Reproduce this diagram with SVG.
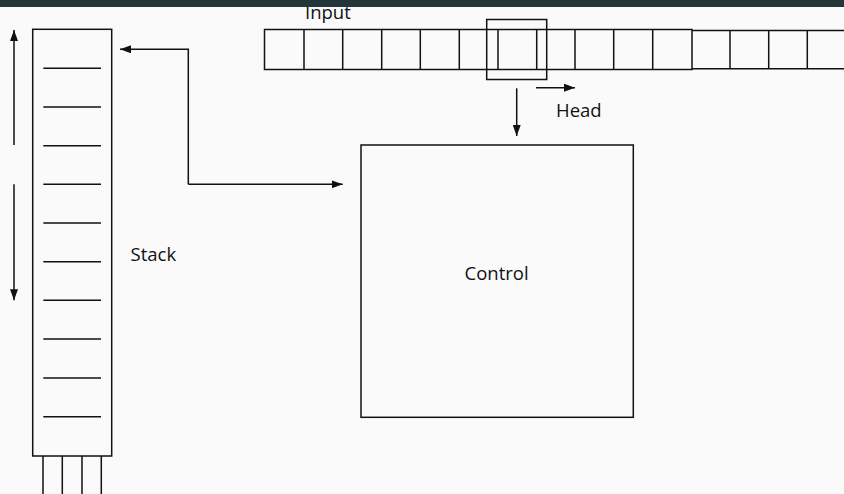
<svg xmlns="http://www.w3.org/2000/svg" width="844" height="494" viewBox="0 0 844 494">
<defs>
<style>
.ln{fill:none;stroke:#111;stroke-width:1.5}
.tx{font-family:"Open Sans","Liberation Sans",sans-serif;font-size:18.5px;fill:#111}
</style>
<marker id="ah" viewBox="0 0 11 8" refX="11" refY="4" markerWidth="11" markerHeight="8" markerUnits="userSpaceOnUse" orient="auto">
<path d="M0,0 L11,4 L0,8 z" fill="#111"/>
</marker>
</defs>
<rect width="844" height="494" fill="#fafafa"/>
<g id="input">
<text class="tx" x="305" y="19">Input</text>
<rect class="ln" x="264.5" y="29.5" width="427.5" height="40"/>
<path class="ln" d="M304,29.5V69.5M342.7,29.5V69.5M381.7,29.5V69.5M420.3,29.5V69.5M459.3,29.5V69.5M498,29.5V69.5M536.7,29.5V69.5M575,29.5V69.5M613.7,29.5V69.5M652.7,29.5V69.5"/>
<path class="ln" d="M692,30.5H850M692,68.7H850M730,30.5V68.7M768.7,30.5V68.7M807.3,30.5V68.7"/>
</g>
<g id="head">
<rect class="ln" x="486.7" y="19.5" width="60" height="60"/>
<text class="tx" x="556" y="116.5">Head</text>
</g>
<g id="stack">
<rect class="ln" x="32.7" y="29.3" width="79" height="426.7"/>
<path class="ln" d="M43.3,68.3H101M43.3,107H101M43.3,145.7H101M43.3,184.3H101M43.3,223H101M43.3,261.7H101M43.3,300.3H101M43.3,339H101M43.3,378H101M43.3,416.7H101"/>
<path class="ln" d="M43,456V494M62.3,456V494M82,456V494M101.3,456V494"/>
<text class="tx" x="130.5" y="261">Stack</text>
</g>
<g id="control">
<rect class="ln" x="361" y="145" width="272.3" height="272.3"/>
<text class="tx" x="464.5" y="280">Control</text>
</g>
<g id="connectors">
<path class="ln" d="M14,145V30" marker-end="url(#ah)"/>
<path class="ln" d="M14,184.3V300.3" marker-end="url(#ah)"/>
<path class="ln" d="M188.3,184.3V49.3H120" marker-end="url(#ah)"/>
<path class="ln" d="M188.3,184.3H342.7" marker-end="url(#ah)"/>
<path class="ln" d="M536,87.7H575" marker-end="url(#ah)"/>
<path class="ln" d="M516.7,88.3V136" marker-end="url(#ah)"/>
</g>
<rect width="844" height="7" fill="#23373b"/>
</svg>
